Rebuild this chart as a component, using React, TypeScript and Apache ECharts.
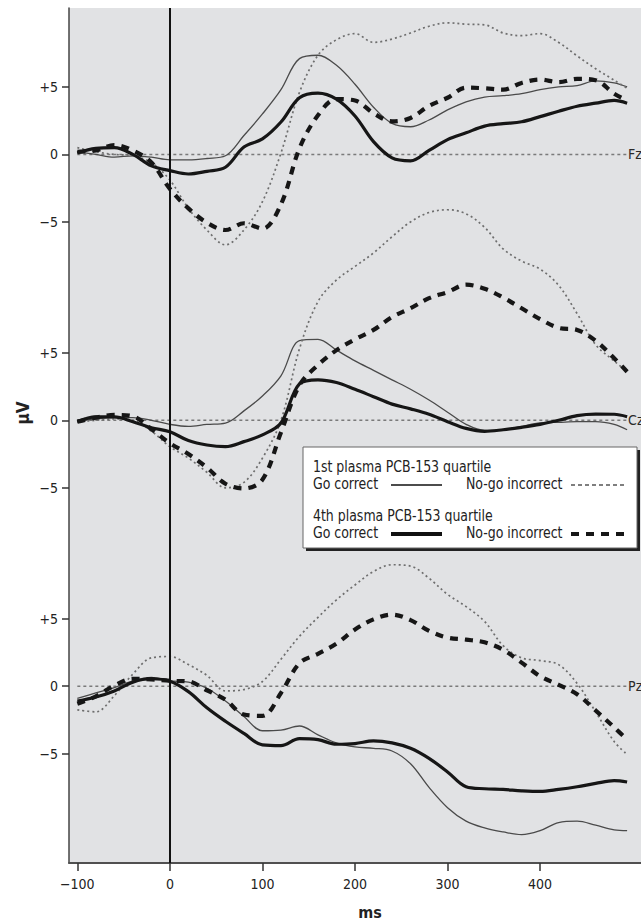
import React, { useEffect, useRef } from "react";
import * as echarts from "echarts";

// ---------- data ----------
const TIMES = [-100, -80, -60, -40, -20, 0, 20, 40, 60, 80, 100, 120, 140, 160, 180, 200, 220, 240, 260, 280, 300, 320, 340, 360, 380, 400, 420, 440, 460, 480, 494];

const CHANNELS = ["Fz", "Cz", "Pz"];
const CHANNEL_OFFSET = 19.7; // vertical spacing of stacked channels (µV)
const CHANNEL_OFFSETS = [CHANNEL_OFFSET, 0, -CHANNEL_OFFSET];

// Fz
const FZ_GO_Q1 = [0.2, 0.0, -0.2, -0.1, -0.2, -0.4, -0.4, -0.3, -0.1, 1.4, 3.0, 4.8, 7.1, 7.35, 6.6, 5.2, 3.5, 2.3, 2.05, 2.55, 3.3, 3.9, 4.25, 4.35, 4.5, 4.8, 5.0, 5.1, 5.45, 5.3, 5.0];
const FZ_NOGO_Q1 = [0.5, 0.2, 0.0, -0.1, -0.6, -1.9, -4.0, -5.6, -6.7, -5.6, -3.5, 0.1, 4.6, 7.35, 8.5, 8.95, 8.3, 8.55, 9.0, 9.5, 9.75, 9.65, 9.6, 9.0, 8.8, 8.95, 8.3, 7.3, 6.35, 5.5, 4.9];
const FZ_GO_Q4 = [0.1, 0.45, 0.5, 0.0, -0.85, -1.2, -1.45, -1.25, -0.95, 0.55, 1.15, 2.4, 4.2, 4.55, 4.1, 2.85, 0.95, -0.25, -0.47, 0.3, 1.1, 1.6, 2.1, 2.28, 2.42, 2.8, 3.2, 3.57, 3.8, 4.0, 3.8];
const FZ_NOGO_Q4 = [0.2, 0.3, 0.7, 0.3, -0.6, -2.55, -4.0, -5.05, -5.6, -5.1, -5.5, -3.7, 0.45, 2.9, 4.1, 4.0, 3.05, 2.45, 2.7, 3.6, 4.2, 4.95, 4.9, 4.8, 5.3, 5.55, 5.35, 5.6, 5.5, 4.5, 4.0];

// Cz
const CZ_GO_Q1 = [-0.1, 0.1, 0.2, 0.2, 0.0, -0.3, -0.45, -0.3, -0.2, 0.7, 1.8, 3.3, 5.9, 6.0, 5.2, 4.4, 3.7, 3.0, 2.3, 1.5, 0.6, -0.3, -0.75, -0.7, -0.45, -0.2, -0.15, -0.1, -0.1, -0.3, -0.7];
const CZ_NOGO_Q1 = [-0.1, 0.0, 0.1, 0.0, -0.8, -1.95, -2.8, -3.85, -5.0, -4.6, -2.8, 0.0, 5.3, 8.8, 10.4, 11.4, 12.4, 13.6, 14.7, 15.4, 15.6, 15.3, 14.3, 12.7, 11.8, 11.2, 10.0, 7.9, 5.6, 4.4, 3.6];
const CZ_GO_Q4 = [-0.1, 0.25, 0.25, -0.1, -0.55, -0.85, -1.5, -1.83, -1.95, -1.58, -1.08, -0.2, 2.7, 3.0, 2.8, 2.3, 1.75, 1.2, 0.85, 0.45, -0.1, -0.6, -0.82, -0.7, -0.52, -0.3, 0.0, 0.35, 0.46, 0.45, 0.27];
const CZ_NOGO_Q4 = [-0.1, 0.2, 0.4, 0.3, -0.65, -1.7, -2.5, -3.5, -4.7, -5.05, -4.4, -0.9, 2.6, 4.1, 5.2, 6.0, 6.7, 7.65, 8.3, 9.05, 9.5, 10.05, 9.75, 9.1, 8.3, 7.5, 6.85, 6.7, 5.9, 4.6, 3.6];

// Pz
const PZ_GO_Q1 = [-0.9, -0.5, -0.1, 0.4, 0.65, 0.4, 0.3, -0.15, -1.1, -2.25, -3.3, -3.25, -2.95, -3.6, -4.2, -4.5, -4.6, -4.8, -5.75, -7.5, -9.0, -10.0, -10.5, -10.8, -11.0, -10.7, -10.1, -10.0, -10.3, -10.65, -10.7];
const PZ_NOGO_Q1 = [-1.75, -1.9, -0.7, 0.9, 2.1, 2.2, 1.6, 0.8, -0.35, -0.25, 0.35, 2.0, 3.7, 5.1, 6.4, 7.5, 8.5, 9.0, 8.9, 8.0, 6.8, 5.9, 4.8, 3.0, 2.1, 1.9, 1.6, 0.2, -1.9, -4.1, -5.05];
const PZ_GO_Q4 = [-1.1, -0.8, -0.35, 0.3, 0.55, 0.37, -0.4, -1.6, -2.6, -3.5, -4.35, -4.4, -3.88, -3.96, -4.3, -4.25, -4.05, -4.2, -4.6, -5.35, -6.35, -7.45, -7.6, -7.65, -7.75, -7.8, -7.65, -7.45, -7.2, -7.0, -7.1];
const PZ_NOGO_Q4 = [-1.3, -0.75, 0.05, 0.55, 0.5, 0.4, 0.35, -0.3, -1.0, -2.1, -2.2, -0.5, 1.7, 2.4, 3.15, 4.2, 4.95, 5.3, 4.9, 4.1, 3.6, 3.45, 3.25, 2.7, 1.75, 0.74, 0.1, -0.6, -1.8, -3.05, -3.95];

const CHANNEL_DATA = [
  [FZ_GO_Q1, FZ_NOGO_Q1, FZ_GO_Q4, FZ_NOGO_Q4],
  [CZ_GO_Q1, CZ_NOGO_Q1, CZ_GO_Q4, CZ_NOGO_Q4],
  [PZ_GO_Q1, PZ_NOGO_Q1, PZ_GO_Q4, PZ_NOGO_Q4],
];

const X_TICKS = [-100, 0, 100, 200, 300, 400];
const Y_TICKS_REL = [5, 0, -5];
const X_MIN = -109;
const X_MAX = 509;
const Y_MIN = -32.8;
const Y_MAX = 30.55;

const LEGEND_GROUPS = ["1st plasma PCB-153 quartile", "4th plasma PCB-153 quartile"];
const LEGEND_ITEMS = ["Go correct", "No-go incorrect"];

const X_NAME = "ms";
const Y_NAME = "µV";

// ---------- styles ----------
const FONT = "'Liberation Sans Narrow', 'DejaVu Sans Condensed', 'Liberation Sans', Arial, sans-serif";
const TRACE_STYLES = [
  { color: "#4a4a4a", width: 1.3, type: "solid" as any },
  { color: "#6e6e6e", width: 1.7, type: [2, 3] as any },
  { color: "#161616", width: 3.2, type: "solid" as any },
  { color: "#161616", width: 4.2, type: [8, 7] as any },
];

function minusText(v: number): string {
  return v < 0 ? "\u2212" + Math.abs(v) : String(v);
}

export default function App() {
  const ref = useRef<HTMLDivElement>(null);

  useEffect(() => {
    if (!ref.current) return;
    const chart = echarts.init(ref.current, undefined, { renderer: "svg" });

    const yTicks: number[] = [];
    CHANNEL_OFFSETS.forEach((off) => Y_TICKS_REL.forEach((r) => yTicks.push(off + r)));

    const yFormatter = (v: number) => {
      let best = CHANNEL_OFFSETS[0];
      CHANNEL_OFFSETS.forEach((o) => {
        if (Math.abs(v - o) < Math.abs(v - best)) best = o;
      });
      const rel = Math.round(v - best);
      if (rel > 0) return "+" + rel;
      return minusText(rel);
    };

    const series: any[] = [];
    CHANNELS.forEach((name, ci) => {
      const off = CHANNEL_OFFSETS[ci];
      series.push({
        type: "line",
        name: name + " baseline",
        data: [
          [TIMES[0], off],
          [TIMES[TIMES.length - 1], off],
        ],
        symbol: "none",
        silent: true,
        lineStyle: { color: "#7a7a7a", width: 1.5, type: [3, 3] },
        endLabel: {
          show: true,
          formatter: name,
          distance: 1,
          color: "#2a2a2a",
          fontSize: 14,
          fontFamily: FONT,
        },
        z: 1,
      });
    });
    CHANNELS.forEach((name, ci) => {
      const off = CHANNEL_OFFSETS[ci];
      CHANNEL_DATA[ci].forEach((vals, si) => {
        const st = TRACE_STYLES[si];
        series.push({
          type: "line",
          name: name + " " + si,
          data: TIMES.map((t, i) => [t, vals[i] + off]),
          symbol: "none",
          smooth: 0.35,
          silent: true,
          lineStyle: { color: st.color, width: st.width, type: st.type, cap: "butt", join: "round" },
          z: 2 + si,
        });
      });
    });
    // vertical stimulus-onset line
    series[0].markLine = {
      silent: true,
      symbol: ["none", "none"],
      label: { show: false },
      lineStyle: { color: "#111", width: 2, type: "solid" },
      data: [{ xAxis: 0 }],
      z: 10,
    };

    // legend box
    const bx = 303, by = 447, bw = 334, bh = 101;
    const tx = 313;
    const rows = [467, 484, 516, 533];
    const SX = 0.87;
    const graphic: any[] = [
      { type: "rect", shape: { x: bx + 3, y: by + 3, width: bw, height: bh }, style: { fill: "#222" }, z: 100 },
      { type: "rect", shape: { x: bx, y: by, width: bw, height: bh }, style: { fill: "#fff", stroke: "#666", lineWidth: 1 }, z: 101 },
    ];
    const textStyle = { fill: "#222", fontSize: 16, fontFamily: FONT, verticalAlign: "middle" };
    LEGEND_GROUPS.forEach((g, gi) => {
      const yTitle = rows[gi * 2];
      const yItem = rows[gi * 2 + 1];
      graphic.push({ type: "text", x: tx, y: yTitle, scaleX: SX, style: { ...textStyle, text: g }, z: 102 });
      graphic.push({ type: "text", x: tx, y: yItem, scaleX: SX, style: { ...textStyle, text: LEGEND_ITEMS[0] }, z: 102 });
      graphic.push({ type: "text", x: 466, y: yItem, scaleX: SX, style: { ...textStyle, text: LEGEND_ITEMS[1] }, z: 102 });
      graphic.push({
        type: "line",
        shape: { x1: 391, y1: yItem + 1, x2: 442, y2: yItem + 1 },
        style: { stroke: "#111", lineWidth: gi === 0 ? 1.6 : 3.8 },
        z: 102,
      });
      graphic.push({
        type: "line",
        shape: { x1: 571, y1: yItem + 1, x2: 627, y2: yItem + 1 },
        style: { stroke: gi === 0 ? "#555" : "#161616", lineWidth: gi === 0 ? 1.3 : 3.8, lineDash: gi === 0 ? [4, 3] : [8, 7] },
        z: 102,
      });
    });
    graphic.push({
      type: "text",
      x: 370,
      y: 912,
      style: { text: X_NAME, fill: "#222", fontSize: 16, fontWeight: "bold", fontFamily: FONT, align: "center", verticalAlign: "middle" },
    });
    graphic.push({
      type: "text",
      x: 23,
      y: 413,
      rotation: Math.PI / 2,
      style: { text: Y_NAME, fill: "#222", fontSize: 17, fontWeight: "bold", fontFamily: FONT, align: "center", verticalAlign: "middle" },
    });

    chart.setOption({
      animation: false,
      backgroundColor: "#ffffff",
      grid: {
        left: 69,
        top: 8,
        right: 0,
        bottom: 59,
        show: true,
        backgroundColor: "#e1e2e4",
        borderWidth: 0,
        outerBoundsMode: "none",
      },
      xAxis: {
        type: "value",
        min: X_MIN,
        max: X_MAX,
        axisLine: { show: true, onZero: false, lineStyle: { color: "#505050", width: 2 } },
        axisTick: { show: true, length: 8, customValues: X_TICKS, lineStyle: { color: "#333", width: 1.5 } },
        axisLabel: {
          customValues: X_TICKS,
          formatter: (v: number) => minusText(v),
          fontSize: 14,
          color: "#222",
          margin: 14,
          fontFamily: FONT,
        },
        splitLine: { show: false },
      },
      yAxis: {
        type: "value",
        min: Y_MIN,
        max: Y_MAX,
        axisLine: { show: true, onZero: false, lineStyle: { color: "#444", width: 1.5 } },
        axisTick: { show: true, length: 7, customValues: yTicks, lineStyle: { color: "#333", width: 1.5 } },
        axisLabel: {
          customValues: yTicks,
          formatter: yFormatter,
          fontSize: 14,
          color: "#222",
          margin: 11,
          fontFamily: FONT,
        },
        splitLine: { show: false },
      },
      graphic,
      series,
    });

    return () => chart.dispose();
  }, []);

  return <div ref={ref} style={{ position: "fixed", left: 0, top: 0, width: 641, height: 922 }} />;
}
